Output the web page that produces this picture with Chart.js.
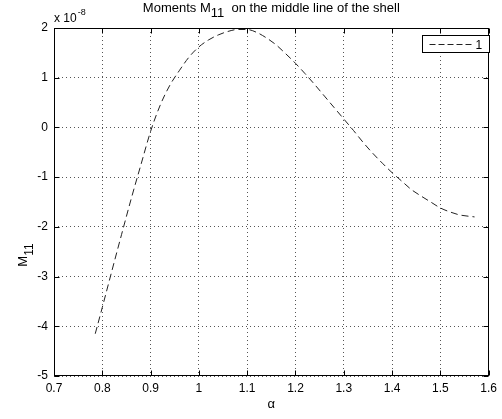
<!DOCTYPE html>
<html>
<head>
<meta charset="utf-8">
<script src="https://cdn.jsdelivr.net/npm/chart.js@4/dist/chart.umd.min.js"></script>
<style>
  html, body { margin: 0; padding: 0; background: #fff; }
  #wrap { width: 502px; height: 419px; }
</style>
</head>
<body>
<div id="wrap"><canvas id="c" width="502" height="419"></canvas></div>
<script>
// values, units of 1e-8
const alpha = [0.7854, 0.80, 0.82, 0.84, 0.86, 0.88, 0.90, 0.92, 0.94, 0.96, 0.98, 1.00,
               1.02, 1.04, 1.06, 1.08, 1.10, 1.12, 1.14, 1.16, 1.18, 1.20, 1.22, 1.24,
               1.26, 1.28, 1.30, 1.32, 1.34, 1.36, 1.38, 1.40, 1.42, 1.44, 1.46, 1.48,
               1.50, 1.52, 1.54, 1.5708];
const m11 = [-4.15, -3.62, -2.88, -2.15, -1.43, -0.75, -0.08, 0.45, 0.85, 1.15, 1.42, 1.62,
             1.76, 1.86, 1.93, 1.97, 1.97, 1.91, 1.8, 1.66, 1.48, 1.29, 1.08, 0.86,
             0.63, 0.4, 0.17, -0.06, -0.3, -0.52, -0.72, -0.91, -1.08, -1.25, -1.38, -1.5,
             -1.62, -1.7, -1.76, -1.8];
const xTicks = [0.7, 0.8, 0.9, 1, 1.1, 1.2, 1.3, 1.4, 1.5, 1.6];
const yTicks = [-5, -4, -3, -2, -1, 0, 1, 2];
const seriesName = '1';

const FONT = '"Liberation Sans", Arial, sans-serif';

const matlabFrame = {
    id: 'matlabFrame',
    afterDraw(chart) {
        const { ctx, chartArea: a, scales } = chart;
        const L = Math.round(a.left) + 0.5, R = Math.round(a.right) - 0.5;
        const T = Math.round(a.top) + 0.5, B = Math.round(a.bottom) - 0.5;
        ctx.save();
        ctx.strokeStyle = '#000';
        ctx.lineWidth = 1;
        ctx.setLineDash([]);
        ctx.strokeRect(L, T, R - L, B - T);

        // inward tick marks on all four sides
        ctx.beginPath();
        xTicks.forEach(v => {
            const px = Math.round(scales.x.getPixelForValue(v)) + 0.5;
            ctx.moveTo(px, B); ctx.lineTo(px, B - 5);
            ctx.moveTo(px, T); ctx.lineTo(px, T + 5);
        });
        yTicks.forEach(v => {
            const py = Math.round(scales.y.getPixelForValue(v)) + 0.5;
            ctx.moveTo(L, py); ctx.lineTo(L + 5, py);
            ctx.moveTo(R, py); ctx.lineTo(R - 5, py);
        });
        ctx.stroke();

        ctx.fillStyle = '#000';
        ctx.textBaseline = 'alphabetic';

        // title with subscript
        const cx = (a.left + a.right) / 2;
        const parts = [['Moments M', 13, 0], ['11', 13, 5], ['  on the middle line of the shell', 13, 0]];
        let total = 0;
        parts.forEach(p => { ctx.font = p[1] + 'px ' + FONT; total += ctx.measureText(p[0]).width; });
        let x = cx - total / 2;
        parts.forEach(p => {
            ctx.font = p[1] + 'px ' + FONT;
            ctx.textAlign = 'left';
            ctx.fillText(p[0], x, 12 + p[2]);
            x += ctx.measureText(p[0]).width;
        });

        // exponent label
        ctx.font = '12px ' + FONT;
        ctx.fillText('x 10', a.left, 22);
        const w = ctx.measureText('x 10').width;
        ctx.font = '9px ' + FONT;
        ctx.fillText('-8', a.left + w + 1, 15);

        // x axis title
        ctx.font = '13px ' + FONT;
        ctx.textAlign = 'center';
        ctx.fillText('\u03b1', cx, 408);

        // y axis title, rotated
        ctx.save();
        ctx.translate(27, 255);
        ctx.rotate(-Math.PI / 2);
        ctx.textAlign = 'left';
        ctx.font = '13px ' + FONT;
        const mW = ctx.measureText('M').width;
        ctx.font = '12px ' + FONT;
        const sW = ctx.measureText('11').width;
        const start = -(mW + sW) / 2;
        ctx.font = '13px ' + FONT;
        ctx.fillText('M', start, 0);
        ctx.font = '12px ' + FONT;
        ctx.fillText('11', start + mW, 6);
        ctx.restore();

        // legend box
        const bx = 422.5, by = 35.5, bw = 67, bh = 17;
        ctx.fillStyle = '#fff';
        ctx.fillRect(bx, by, bw, bh);
        ctx.strokeRect(bx, by, bw, bh);
        ctx.strokeStyle = '#222';
        ctx.setLineDash([6, 3]);
        ctx.beginPath();
        ctx.moveTo(bx + 7, by + 9);
        ctx.lineTo(bx + 50, by + 9);
        ctx.stroke();
        ctx.setLineDash([]);
        ctx.fillStyle = '#000';
        ctx.font = '12px ' + FONT;
        ctx.textAlign = 'left';
        ctx.fillText(seriesName, bx + 53, by + 13);
        ctx.restore();
    }
};

new Chart(document.getElementById('c'), {
    type: 'line',
    data: {
        datasets: [{
            label: seriesName,
            data: alpha.map((a, i) => ({ x: a, y: m11[i] })),
            borderColor: '#222',
            borderWidth: 1,
            borderDash: [7, 4],
            pointRadius: 0,
            cubicInterpolationMode: 'monotone',
            fill: false
        }]
    },
    options: {
        responsive: false,
        animation: false,
        devicePixelRatio: 1,
        layout: { padding: { left: 0, top: 28, right: 8, bottom: 0 } },
        plugins: { legend: { display: false }, tooltip: { enabled: false } },
        scales: {
            x: {
                type: 'linear',
                min: 0.7, max: 1.6,
                afterBuildTicks: s => { s.ticks = xTicks.map(v => ({ value: v })); },
                afterFit: s => { s.height = 43; },
                ticks: {
                    color: '#000', padding: 5, maxRotation: 0, autoSkip: false,
                    font: { family: FONT, size: 12 },
                    callback: v => String(v)
                },
                grid: { color: '#555', drawTicks: false },
                border: { display: false, dash: [1, 3] }
            },
            y: {
                type: 'linear',
                min: -5, max: 2,
                afterBuildTicks: s => { s.ticks = yTicks.map(v => ({ value: v })); },
                afterFit: s => { s.width = 54; },
                ticks: {
                    color: '#000', padding: 6, autoSkip: false,
                    font: { family: FONT, size: 12 },
                    callback: v => String(v)
                },
                grid: { color: '#555', drawTicks: false },
                border: { display: false, dash: [1, 3] }
            }
        }
    },
    plugins: [matlabFrame]
});
</script>
</body>
</html>
